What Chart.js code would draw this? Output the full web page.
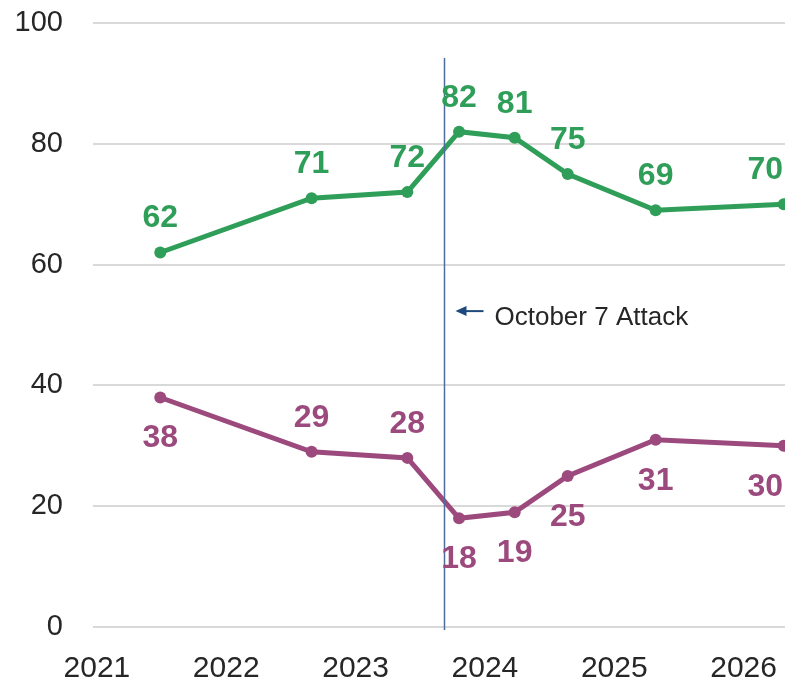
<!DOCTYPE html>
<html>
<head>
<meta charset="utf-8">
<script src="https://cdn.jsdelivr.net/npm/chart.js@4"></script>
<style>
  html, body { margin: 0; padding: 0; background: #fff; }
  #wrap { width: 785px; height: 680px; }
</style>
</head>
<body>
<div id="wrap"><canvas id="chart" width="785" height="680"></canvas></div>
<script>
// survey dates (decimal years) and values
const surveyDates = [2021.49, 2022.66, 2023.40, 2023.80, 2024.23, 2024.64, 2025.32, 2026.31];
const greenValues = [62, 71, 72, 82, 81, 75, 69, 70];
const purpleValues = [38, 29, 28, 18, 19, 25, 31, 30];
const yearTicks = [2021, 2022, 2023, 2024, 2025, 2026];
const eventDate = 2023.68;
const eventLabel = 'October 7 Attack';

const GREEN = '#2f9e59';
const PURPLE = '#9c4a7d';
const FONT = '"Liberation Sans", Arial, sans-serif';

// purple labels that sit above their point instead of below
const purpleAbove = [1, 2];

const labelPlugin = {
    id: 'labels',
    afterDatasetsDraw(chart) {
        const ctx = chart.ctx;
        const xs = chart.scales.x;
        const ys = chart.scales.y;

        // event line
        const lx = Math.round(xs.getPixelForValue(eventDate)) + 0.5;
        ctx.save();
        ctx.strokeStyle = '#4f6d9a';
        ctx.lineWidth = 1.5;
        ctx.beginPath();
        ctx.moveTo(lx, ys.getPixelForValue(94.2));
        ctx.lineTo(lx, chart.chartArea.bottom + 3);
        ctx.stroke();

        // arrow + text
        const ay = ys.getPixelForValue(52.3);
        ctx.strokeStyle = '#1f497d';
        ctx.fillStyle = '#1f497d';
        ctx.lineWidth = 2;
        ctx.beginPath();
        ctx.moveTo(lx + 20, ay);
        ctx.lineTo(lx + 39, ay);
        ctx.stroke();
        ctx.beginPath();
        ctx.moveTo(lx + 11, ay);
        ctx.lineTo(lx + 22, ay - 5);
        ctx.lineTo(lx + 22, ay + 5);
        ctx.closePath();
        ctx.fill();
        ctx.fillStyle = '#262626';
        ctx.font = '26px ' + FONT;
        ctx.textAlign = 'left';
        ctx.textBaseline = 'middle';
        ctx.fillText(eventLabel, lx + 50, ay + 7);

        // data labels
        ctx.font = 'bold 32px ' + FONT;
        ctx.textAlign = 'center';
        ctx.textBaseline = 'middle';
        chart.data.datasets.forEach((ds, di) => {
            const meta = chart.getDatasetMeta(di);
            meta.data.forEach((pt, i) => {
                const txt = String(ds.data[i].y);
                const above = di === 0 || purpleAbove.includes(i);
                const ty = pt.y + (above ? -34 : 41);
                let tx = pt.x;
                const half = ctx.measureText(txt).width / 2;
                if (tx + half > chart.width - 2) tx = chart.width - 2 - half;
                ctx.fillStyle = ds.borderColor;
                ctx.fillText(txt, tx, ty);
            });
        });
        ctx.restore();
    }
};

new Chart(document.getElementById('chart'), {
    type: 'line',
    data: {
        datasets: [
            {
                data: surveyDates.map((d, i) => ({ x: d, y: greenValues[i] })),
                borderColor: GREEN,
                backgroundColor: GREEN,
                borderWidth: 5,
                pointRadius: 6,
                pointBorderWidth: 0,
                tension: 0
            },
            {
                data: surveyDates.map((d, i) => ({ x: d, y: purpleValues[i] })),
                borderColor: PURPLE,
                backgroundColor: PURPLE,
                borderWidth: 5,
                pointRadius: 6,
                pointBorderWidth: 0,
                tension: 0
            }
        ]
    },
    options: {
        responsive: false,
        animation: false,
        devicePixelRatio: 1,
        layout: { autoPadding: false, padding: { top: 23, right: 0, left: 0, bottom: 0 } },
        plugins: {
            legend: { display: false },
            tooltip: { enabled: false }
        },
        scales: {
            x: {
                type: 'linear',
                min: 2020.97,
                max: 2026.32,
                afterBuildTicks(scale) {
                    scale.ticks = yearTicks.map(v => ({ value: v }));
                },
                afterFit(scale) {
                    scale.height = 53;
                    scale.paddingLeft = 0;
                    scale.paddingRight = 0;
                },
                grid: { display: false, drawTicks: false },
                border: { display: false },
                ticks: {
                    padding: 24,
                    color: '#262626',
                    font: { family: FONT, size: 30 },
                    maxRotation: 0,
                    callback: v => String(v)
                }
            },
            y: {
                min: 0,
                max: 100,
                afterFit(scale) {
                    scale.width = 93;
                    scale.paddingTop = 0;
                    scale.paddingBottom = 0;
                },
                grid: { color: '#d9d9d9', lineWidth: 2, drawTicks: false },
                border: { display: false },
                ticks: {
                    stepSize: 20,
                    padding: 30,
                    color: '#262626',
                    font: { family: FONT, size: 29 }
                }
            }
        }
    },
    plugins: [labelPlugin]
});
</script>
</body>
</html>
